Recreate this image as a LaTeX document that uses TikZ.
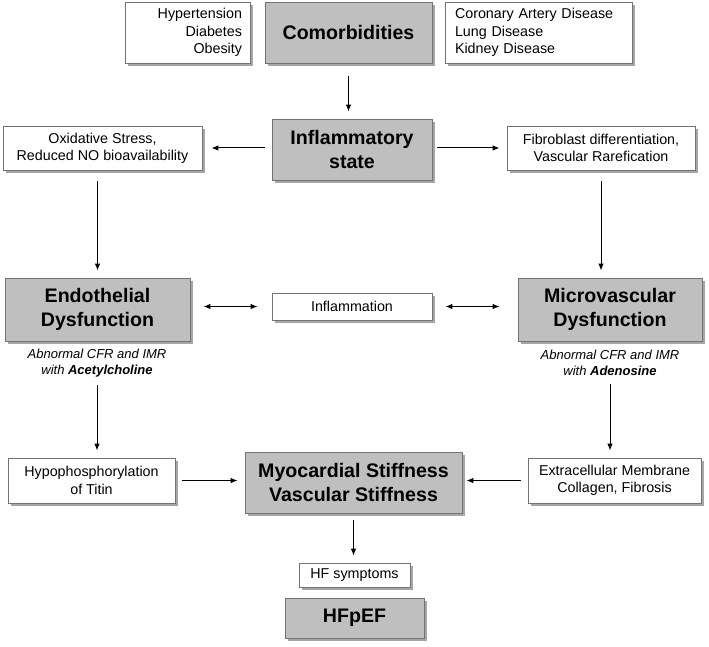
\documentclass[tikz,border=0pt]{standalone}
\usepackage{fontspec}
\setmainfont{Liberation Sans}
\usetikzlibrary{arrows.meta,shadows}

\begin{document}
\begin{tikzpicture}[x=1pt,y=-1pt,
		box/.style={draw=black!55, line width=0.8pt, inner sep=0pt, align=center,
			drop shadow={shadow xshift=3pt, shadow yshift=-3pt, fill=black!50, opacity=0.7}},
		whitebox/.style={box, fill=white, font=\fontsize{14.3}{17.3}\selectfont},
		greybox/.style={box, fill=black!25, font=\bfseries\fontsize{19.6}{23.5}\selectfont},
		note/.style={align=center, font=\itshape\fontsize{13}{15.5}\selectfont},
		arr/.style={-{Latex[length=7pt,width=5.5pt]}, line width=1pt, shorten <=7pt, shorten >=7pt},
		darr/.style={arr, {Latex[length=7pt,width=5.5pt]}-{Latex[length=7pt,width=5.5pt]}}]
	\useasboundingbox (0,0) rectangle (709,647);
	
	%top row
	\node (riskL) at (187.5,32.5) [whitebox, align=right, text width=109pt, inner xsep=8pt, minimum height=61pt]{Hypertension\\Diabetes\\Obesity};
	\node (comorb) at (348.5,32.5) [greybox, minimum width=167pt, minimum height=61pt]{Comorbidities};
	\node (riskR) at (538.5,32.5) [whitebox, align=left, text width=167pt, inner xsep=10pt, minimum height=61pt]{Coronary Artery Disease\\Lung Disease\\Kidney Disease};
	
	%inflammatory state
	\node (infl) at (352,149.5) [greybox, minimum width=160pt, minimum height=61pt]{Inflammatory\\state};
	\node (oxid) at (102.5,148) [whitebox, minimum width=199pt, minimum height=44pt]{Oxidative Stress,\\Reduced NO bioavailability};
	\node (fibro) at (601,148) [whitebox, minimum width=188pt, minimum height=44pt]{Fibroblast differentiation,\\Vascular Rarefication};
	
	%dysfunction
	\node (endo) at (97.5,309.5) [greybox, minimum width=185pt, minimum height=63pt]{Endothelial\\Dysfunction};
	\node (inflam) at (352,306.5) [whitebox, minimum width=160pt, minimum height=27pt]{Inflammation};
	\node (micro) at (610,309.5) [greybox, minimum width=184pt, minimum height=63pt]{Microvascular\\Dysfunction};
	\node (endoNote) at (97,363) [note]{Abnormal CFR and IMR\\with \textbf{Acetylcholine}};
	\node (microNote) at (610,363) [note]{Abnormal CFR and IMR\\with \textbf{Adenosine}};
	
	%stiffness
	\node (hypo) at (91.5,480.5) [whitebox, minimum width=167pt, minimum height=45pt]{Hypophosphorylation\\of Titin};
	\node (myo) at (353.5,482.5) [greybox, minimum width=217pt, minimum height=61pt]{Myocardial Stiffness\\Vascular Stiffness};
	\node (extra) at (614.5,480.5) [whitebox, minimum width=173pt, minimum height=45pt]{Extracellular Membrane\\Collagen, Fibrosis};
	\node (hf) at (354.5,575) [whitebox, minimum width=111pt, minimum height=24pt]{HF symptoms};
	\node (hfpef) at (354.5,618) [greybox, minimum width=139pt, minimum height=40pt]{HFpEF};
	
	%arrows
	\draw[arr, shorten <=13pt] (comorb.south) -- (comorb.south |- infl.north);
	\draw[arr, shorten >=9pt] (infl.west |- oxid.east) -- (oxid.east);
	\draw[arr, shorten <=5pt] (infl.east |- fibro.west) -- (fibro.west);
	\draw[arr, shorten <=11pt] (oxid.south -| endo.north) -- (endo.north);
	\draw[arr, shorten <=11pt] (fibro.south) -- (fibro.south |- micro.north);
	\draw[darr, shorten <=13pt, shorten >=14pt] (endo.east |- inflam.west) -- (inflam.west);
	\draw[darr, shorten <=13pt, shorten >=18pt] (inflam.east) -- (inflam.east -| micro.west);
	\draw[arr, shorten <=5pt] (endoNote.south) -- (endoNote.south |- hypo.north);
	\draw[arr, shorten <=5pt] (microNote.south) -- (microNote.south |- extra.north);
	\draw[arr] (hypo.east) -- (hypo.east -| myo.west);
	\draw[arr, shorten >=4pt] (extra.west) -- (extra.west -| myo.east);
	\draw[arr] (myo.south) -- (myo.south |- hf.north);
\end{tikzpicture}
\end{document}
